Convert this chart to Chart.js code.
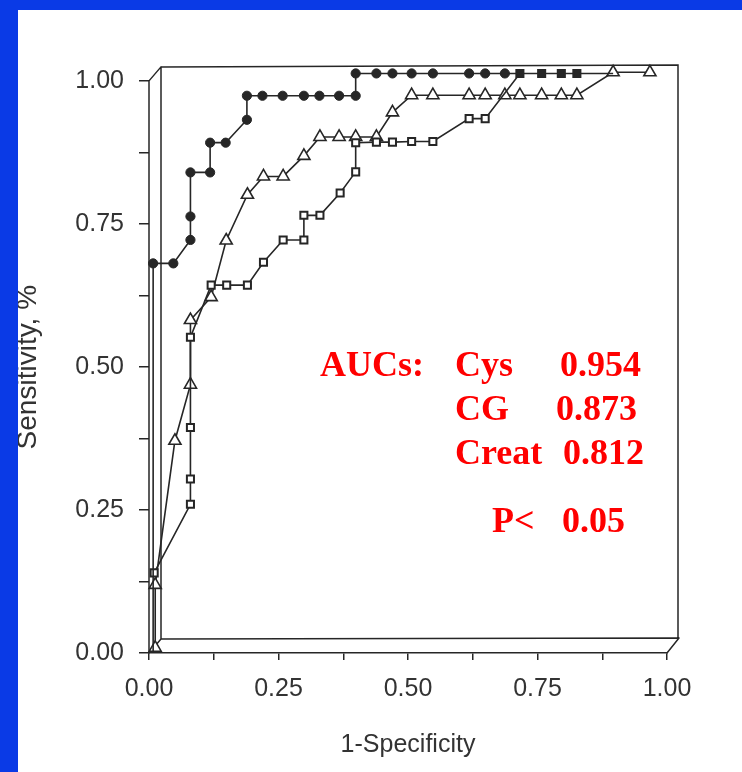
<!DOCTYPE html>
<html><head><meta charset="utf-8">
<script src="https://cdn.jsdelivr.net/npm/chart.js@4.4.1/dist/chart.umd.min.js"></script>
<style>
html,body{margin:0;padding:0;background:#0a3ae6;width:742px;height:772px;overflow:hidden}
#wrap{position:absolute;left:18px;top:10px;width:724px;height:762px;background:#fff}
</style></head><body>
<div id="wrap"><canvas id="c"></canvas></div>
<script>
// ---- data ----
const cysX = [0.008, 0.008, 0.047, 0.080, 0.080, 0.080, 0.118, 0.118, 0.148, 0.189, 0.189, 0.219, 0.258, 0.299, 0.329, 0.367, 0.399, 0.399, 0.439, 0.470, 0.507, 0.548, 0.618, 0.649, 0.687, 0.716];
const cysY = [0.000, 0.681, 0.681, 0.722, 0.763, 0.840, 0.840, 0.892, 0.892, 0.932, 0.974, 0.974, 0.974, 0.974, 0.974, 0.974, 0.974, 1.013, 1.013, 1.013, 1.013, 1.013, 1.013, 1.013, 1.013, 1.013];
const cgX = [0.012, 0.012, 0.050, 0.080, 0.080, 0.120, 0.149, 0.190, 0.221, 0.259, 0.299, 0.330, 0.367, 0.399, 0.439, 0.470, 0.507, 0.548, 0.618, 0.649, 0.687, 0.716, 0.758, 0.796, 0.826, 0.896, 0.967];
const cgY = [0.009, 0.119, 0.371, 0.469, 0.582, 0.622, 0.721, 0.801, 0.833, 0.833, 0.869, 0.902, 0.902, 0.902, 0.902, 0.945, 0.975, 0.975, 0.975, 0.975, 0.975, 0.975, 0.975, 0.975, 0.975, 1.015, 1.015];
const crX = [0.010, 0.080, 0.080, 0.080, 0.080, 0.120, 0.150, 0.190, 0.221, 0.259, 0.299, 0.299, 0.330, 0.369, 0.399, 0.399, 0.439, 0.470, 0.507, 0.548, 0.618, 0.649, 0.716, 0.758, 0.796, 0.826, 0.896];
const crY = [0.140, 0.260, 0.304, 0.394, 0.552, 0.643, 0.643, 0.643, 0.683, 0.722, 0.722, 0.765, 0.765, 0.804, 0.841, 0.892, 0.893, 0.893, 0.894, 0.894, 0.934, 0.934, 1.013, 1.013, 1.013, 1.013, 1.013];
const tickValues = [0, 0.125, 0.25, 0.375, 0.5, 0.625, 0.75, 0.875, 1];
const aucLabels = ['Cys', 'CG', 'Creat'];
const aucValues = ['0.954', '0.873', '0.812'];
const pText = ['P<', '0.05'];
const xTitle = '1-Specificity';
const yTitle = 'Sensitivity, %';

const toPts = (xs, ys) => xs.map((x, i) => ({x, y: ys[i]}));
const ink = '#262626';

const framePlugin = {
  id: 'frame3d',
  beforeDatasetsDraw(chart) {
    const {ctx, chartArea: {left: L, right: R, bottom: B}} = chart;
    const T = chart.scales.y.getPixelForValue(1);
    const dx = 12, dy = -14;
    ctx.save();
    ctx.strokeStyle = ink; ctx.lineWidth = 1.5; ctx.lineCap = 'round';
    ctx.beginPath();
    ctx.moveTo(L, T); ctx.lineTo(L, B);
    ctx.moveTo(L + dx, T + dy); ctx.lineTo(L + dx, B + dy);
    ctx.moveTo(L + dx, T + dy); ctx.lineTo(R + dx - 1, T + dy - 2); ctx.lineTo(R + dx - 1, B + dy - 1);
    ctx.moveTo(L + dx, B + dy); ctx.lineTo(R + dx, B + dy - 1);
    ctx.moveTo(L, T); ctx.lineTo(L + dx, T + dy);
    ctx.moveTo(L, B); ctx.lineTo(L + dx, B + dy);
    ctx.moveTo(R, B); ctx.lineTo(R + dx, B + dy - 1);
    ctx.stroke();
    ctx.restore();
  },
  afterDraw(chart) {
    const {ctx, chartArea: {left: L}} = chart;
    const T = chart.scales.y.getPixelForValue(1);
    const px = v => L + v - 149, py = v => T + v - 81;
    ctx.save();
    ctx.fillStyle = '#ff0000';
    ctx.font = 'bold 36px "Liberation Serif", "Times New Roman", serif';
    ctx.textAlign = 'left'; ctx.textBaseline = 'alphabetic';
    ctx.fillText('AUCs:', px(320), py(376));
    const lx = [455, 455, 455], vx = [560, 556, 563], ry = [376, 420, 464];
    aucLabels.forEach((t, i) => { ctx.fillText(t, px(lx[i]), py(ry[i])); ctx.fillText(aucValues[i], px(vx[i]), py(ry[i])); });
    ctx.fillText(pText[0], px(492), py(532));
    ctx.fillText(pText[1], px(562), py(532));
    ctx.restore();
  }
};

const tickFont = {family: '"Liberation Sans", Arial, sans-serif', size: 25};
const fmt = v => (Math.abs(v * 4 - Math.round(v * 4)) < 1e-6) ? v.toFixed(2) : '';

new Chart(document.getElementById('c'), {
  type: 'line',
  data: {
    datasets: [
      {label: 'Cys', data: toPts(cysX, cysY), borderColor: ink, borderWidth: 1.6, tension: 0, clip: false,
       pointStyle: 'circle', pointRadius: c => (c.dataIndex === 0 || c.dataIndex === cysX.length - 1) ? 0 : 4.6,
       pointBackgroundColor: ink, pointBorderColor: ink, pointBorderWidth: 1},
      {label: 'Creat', data: toPts(crX, crY), borderColor: ink, borderWidth: 1.6, tension: 0, clip: false,
       pointStyle: 'rect', pointRadius: c => c.dataIndex === crX.length - 1 ? 0 : 5,
       pointBackgroundColor: c => (c.raw && c.raw.y > 1) ? ink : '#fff', pointBorderColor: ink, pointBorderWidth: 2},
      {label: 'CG', data: toPts(cgX, cgY), borderColor: ink, borderWidth: 1.6, tension: 0, clip: false,
       pointStyle: 'triangle', pointRadius: 7,
       pointBackgroundColor: '#fff', pointBorderColor: ink, pointBorderWidth: 1.6}
    ]
  },
  options: {
    responsive: true, maintainAspectRatio: false, animation: false,
    layout: {padding: {top: 48, right: 75, left: 0, bottom: 0}},
    plugins: {legend: {display: false}, tooltip: {enabled: false}},
    scales: {
      x: {
        type: 'linear', min: 0, max: 1,
        afterFit: s => { s.height = 119; },
        afterBuildTicks: s => { s.ticks = tickValues.map(v => ({value: v})); },
        ticks: {callback: fmt, autoSkip: false, maxRotation: 0, padding: 14, color: '#333', font: tickFont},
        grid: {drawOnChartArea: false, drawTicks: true, tickLength: 7, color: ink, lineWidth: 1.5},
        border: {display: true, color: ink, width: 1.5},
        title: {display: true, text: xTitle, color: '#333', font: {family: '"Liberation Sans", Arial, sans-serif', size: 25, lineHeight: 1.2}, padding: {top: 0, bottom: 12}}
      },
      y: {
        type: 'linear', min: 0, max: 1.04,
        afterFit: s => { s.width = 131; },
        afterBuildTicks: s => { s.ticks = tickValues.map(v => ({value: v})); },
        ticks: {callback: fmt, autoSkip: false, padding: 15, color: '#333', font: tickFont},
        grid: {drawOnChartArea: false, drawTicks: true, tickLength: 10, color: ink, lineWidth: 1.5},
        border: {display: false},
        title: {display: true, text: yTitle + '   ', color: '#333', font: {family: '"Liberation Sans", Arial, sans-serif', size: 28, lineHeight: 0.72}, padding: {top: 0, bottom: 0}}
      }
    }
  },
  plugins: [framePlugin]
});
</script>
</body></html>
